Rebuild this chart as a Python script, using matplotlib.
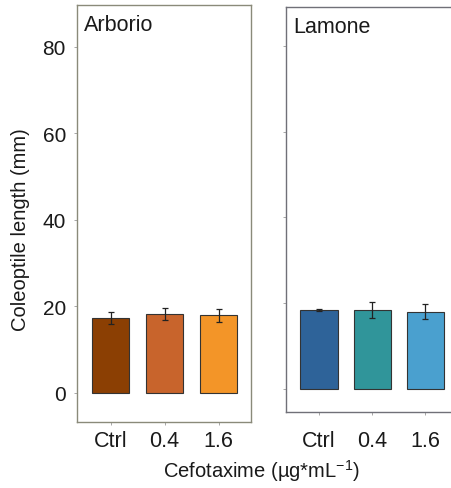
import matplotlib
matplotlib.use("Agg")
import matplotlib.pyplot as plt
import numpy as np

plt.rcParams['font.family'] = ['Liberation Sans', 'DejaVu Sans']
plt.rcParams['mathtext.fontset'] = 'custom'
plt.rcParams['mathtext.rm'] = 'Liberation Sans'
plt.rcParams['mathtext.it'] = 'Liberation Sans:italic'

categories = ['Ctrl', '0.4', '1.6']
arborio_vals = [17.2, 18.2, 17.85]
arborio_err = [1.35, 1.4, 1.5]
lamone_vals = [18.4, 18.4, 18.0]
lamone_err = [0.25, 1.8, 1.8]
arborio_colors = ['#8B3F03', '#C8642C', '#F39528']
lamone_colors = ['#2E6399', '#30959A', '#4AA0CF']
yticks = [0, 20, 40, 60, 80]

fig = plt.figure(figsize=(4.52, 4.89), dpi=100)

def panel(rect, vals, errs, colors, title, ylim, spine_col, xpad, show_ylabels):
    ax = fig.add_axes(rect)
    x = np.arange(len(categories))
    ax.bar(x, vals, width=0.7, color=colors, edgecolor='#333333', linewidth=0.8, zorder=2)
    ax.errorbar(x, vals, yerr=errs, fmt='none', ecolor='#222222', elinewidth=0.9,
                capsize=2.5, capthick=0.9, zorder=3)
    ax.set_xlim(-0.62, 2.6)
    ax.set_ylim(*ylim)
    ax.set_xticks(x)
    ax.set_xticklabels(categories)
    ax.set_yticks(yticks)
    if not show_ylabels:
        ax.set_yticklabels([])
    for s in ax.spines.values():
        s.set_color(spine_col)
        s.set_linewidth(1.0)
    ax.tick_params(axis='x', length=2, width=0.6, color='#999999', pad=xpad,
                   labelsize=15.5, labelcolor='#1a1a1a')
    ax.tick_params(axis='y', length=2, width=0.6, color='#999999', pad=6,
                   labelsize=15, labelcolor='#1a1a1a')
    ax.text(0.04, 0.978, title, transform=ax.transAxes, ha='left', va='top',
            fontsize=15.5, color='#1a1a1a')
    return ax

panel([77/452, 66/489, 174/452, 417/489], arborio_vals, arborio_err, arborio_colors,
      'Arborio', (-6.8, 89.6), '#8a8a7a', 4, True)
panel([286/452, 76/489, 171.2/452, 405/489], lamone_vals, lamone_err, lamone_colors,
      'Lamone', (-5.4, 89.1), '#707078', 11, False)

fig.text(21/452, 1 - 230/489, 'Coleoptile length (mm)', rotation=90,
         ha='center', va='center', fontsize=14.5, color='#1a1a1a')
fig.text(261/452, 1 - 471/489, 'Cefotaxime (µg*mL$^{-1}$)',
         ha='center', va='center', fontsize=14.5, color='#1a1a1a')

fig.savefig('out.png', dpi=100)
